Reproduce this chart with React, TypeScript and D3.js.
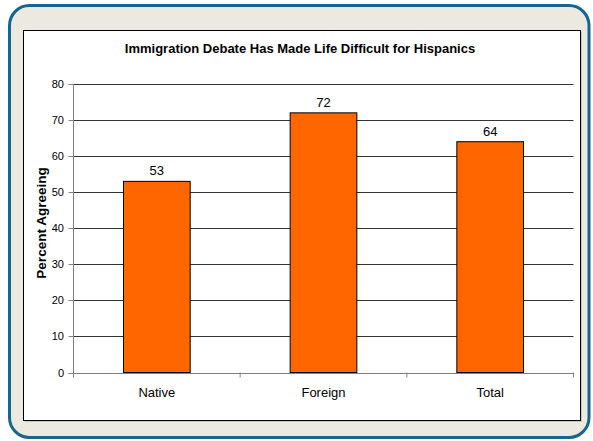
import React from "react";
import * as d3 from "d3";

const categories = ["Native", "Foreign", "Total"];
const values = [53, 72, 64];
const yTicks = [0, 10, 20, 30, 40, 50, 60, 70, 80];
const title = "Immigration Debate Has Made Life Difficult for Hispanics";
const yLabel = "Percent Agreeing";

export default function App() {
  const W = 593, H = 441;
  const left = 73.5, right = 573.5, top = 84, bottom = 372.5;
  const x = d3.scaleBand().domain(categories).range([left, right]).paddingInner(0.6).paddingOuter(0.3);
  const xb = d3.scaleBand().domain(categories).range([left, right]);
  const y = d3.scaleLinear().domain([0, 80]).range([bottom, top]);
  const font = "Arial, 'Liberation Sans', sans-serif";
  return (
    <svg width={W} height={H} style={{ position: "absolute", left: 0, top: 0 }} fontFamily={font}>
      <rect x={0} y={0} width={W} height={H} fill="#ffffff" />
      <rect x={9.5} y={5.5} width={579.5} height={432} rx={20} ry={20} fill="#ece9e1" stroke="#156590" strokeWidth={3} />
      <rect x={25} y={32} width={557} height={390} fill="#c8c6c0" />
      <rect x={23.5} y={30.5} width={557} height={390} fill="#ffffff" stroke="#000" strokeWidth={1} />
      <text x={300} y={53} textAnchor="middle" fontSize={13} fontWeight="bold" fill="#000">{title}</text>
      {yTicks.map((t) => (
        <g key={t}>
          <line x1={left} x2={right} y1={Math.round(y(t)) + 0.5} y2={Math.round(y(t)) + 0.5} stroke="#333" strokeWidth={1} />
          <line x1={left - 5} x2={left} y1={Math.round(y(t)) + 0.5} y2={Math.round(y(t)) + 0.5} stroke="#808080" strokeWidth={1} />
          <text x={64} y={y(t) + 4} textAnchor="end" fontSize={11} fill="#000">{t}</text>
        </g>
      ))}
      {categories.map((c, i) => (
        <g key={c}>
          <rect x={x(c)!} y={y(values[i])} width={x.bandwidth()} height={bottom - y(values[i])} fill="#ff6600" stroke="#000" strokeWidth={1} />
          <text x={x(c)! + x.bandwidth() / 2} y={y(values[i]) - 6} textAnchor="middle" fontSize={13} fill="#000">{values[i]}</text>
          <text x={xb(c)! + xb.bandwidth() / 2} y={397} textAnchor="middle" fontSize={13} fill="#000">{c}</text>
        </g>
      ))}
      <line x1={left} x2={left} y1={top} y2={bottom + 4} stroke="#808080" strokeWidth={1} />
      <line x1={left} x2={right} y1={Math.round(bottom) + 0.5} y2={Math.round(bottom) + 0.5} stroke="#808080" strokeWidth={1} />
      {[...categories.map((c) => xb(c)!), right].map((v, i) => (
        <line key={i} x1={v} x2={v} y1={bottom} y2={bottom + 5} stroke="#808080" strokeWidth={1} />
      ))}
      <text transform={`translate(46,223) rotate(-90)`} textAnchor="middle" fontSize={13.5} fontWeight="bold" fill="#000">{yLabel}</text>
    </svg>
  );
}
